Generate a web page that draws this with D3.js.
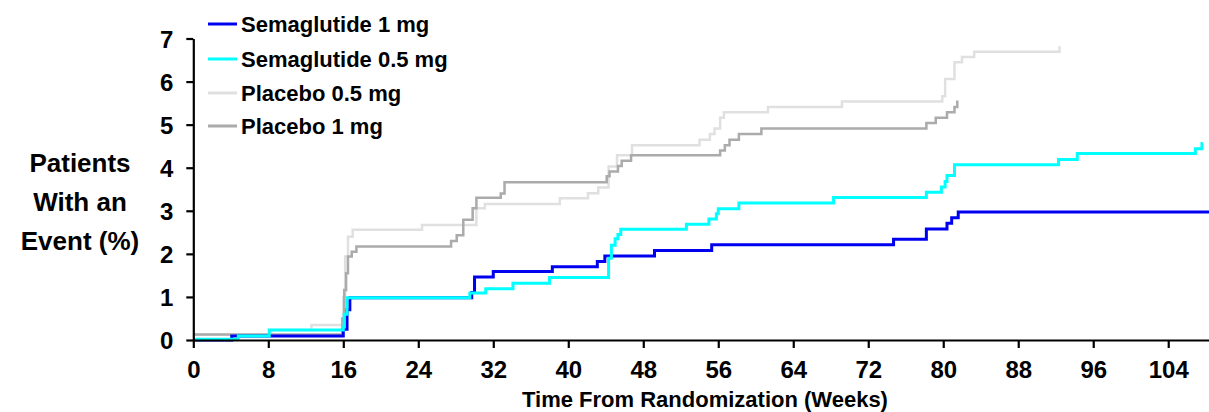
<!DOCTYPE html>
<html>
<head>
<meta charset="utf-8">
<script src="https://cdn.jsdelivr.net/npm/d3@7"></script>
<style>
  html, body { margin: 0; padding: 0; background: #ffffff; }
  svg { display: block; font-family: "Liberation Sans", Arial, Helvetica, sans-serif; }
</style>
</head>
<body>
<svg id="chart" width="1209" height="412"></svg>
<script>
// ---- data ----
const seriesNames = ["Semaglutide 1 mg", "Semaglutide 0.5 mg", "Placebo 0.5 mg", "Placebo 1 mg"];
const seriesColors = ["#0000f0", "#00ffff", "#e0e0e0", "#ababab"];

const sema1Weeks  = [0, 4.1, 16.0, 16.4, 16.7, 29.7, 30.0, 32.0, 38.3, 43.1, 43.9, 49.2, 55.3, 74.7, 78.2, 80.4, 80.9, 81.6, 108.4];
const sema1Values = [0, 0.09, 0.25, 0.7, 0.98, 1.1, 1.46, 1.59, 1.70, 1.82, 1.95, 2.08, 2.21, 2.34, 2.58, 2.71, 2.84, 2.97, 2.97];

const sema05Weeks  = [0, 4.8, 8.1, 16.0, 16.1, 16.4, 29.5, 31.2, 34.1, 38.0, 44.3, 44.6, 45.0, 45.3, 45.6, 52.6, 55.0, 55.8, 56.0, 58.2, 68.3, 78.2, 79.8, 80.2, 80.4, 81.2, 92.3, 94.3, 106.9, 107.6, 107.7];
const sema05Values = [0.02, 0.09, 0.23, 0.3, 0.6, 0.98, 1.09, 1.19, 1.32, 1.45, 1.9, 2.2, 2.35, 2.45, 2.57, 2.69, 2.81, 2.93, 3.05, 3.18, 3.31, 3.43, 3.55, 3.68, 3.82, 4.07, 4.19, 4.33, 4.44, 4.56, 4.56];

const plac05Weeks  = [0, 8.3, 12.6, 16.0, 16.2, 16.5, 17.0, 24.4, 30.2, 31.1, 39.1, 42.1, 43.2, 44.3, 45.2, 46.8, 54.0, 55.1, 55.6, 56.2, 56.6, 61.3, 69.2, 79.9, 80.2, 81.2, 82.0, 83.3, 92.4];
const plac05Values = [0.12, 0.23, 0.35, 1.0, 1.94, 2.4, 2.56, 2.67, 3.06, 3.16, 3.29, 3.41, 3.54, 4.03, 4.29, 4.52, 4.65, 4.78, 4.91, 5.16, 5.29, 5.41, 5.54, 5.66, 6.06, 6.45, 6.57, 6.69, 6.82];

const plac1Weeks  = [0, 15.9, 16.1, 16.3, 16.5, 16.9, 17.4, 27.5, 28.1, 28.8, 29.8, 30.2, 32.8, 33.2, 44.1, 44.4, 45.3, 45.7, 46.7, 56.2, 56.7, 57.2, 58.2, 60.6, 78.2, 79.2, 80.4, 81.2, 81.5];
const plac1Values = [0.13, 0.5, 1.16, 1.55, 1.94, 2.05, 2.17, 2.30, 2.43, 2.79, 3.06, 3.30, 3.40, 3.66, 3.80, 3.91, 4.04, 4.16, 4.29, 4.40, 4.52, 4.65, 4.78, 4.91, 5.04, 5.16, 5.29, 5.41, 5.56];

const xTicks = [0, 8, 16, 24, 32, 40, 48, 56, 64, 72, 80, 88, 96, 104];
const yTicks = [0, 1, 2, 3, 4, 5, 6, 7];
const xTitle = "Time From Randomization (Weeks)";
const yTitleLines = ["Patients", "With an", "Event (%)"];

// ---- build ----
const svg = d3.select("#chart");
const x = d3.scaleLinear().domain([0, 108.35]).range([193.3, 1209]);
const y = d3.scaleLinear().domain([0, 7]).range([340, 38.5]);

const seriesData = [
  { name: seriesNames[0], color: seriesColors[0], weeks: sema1Weeks, values: sema1Values, w: 3 },
  { name: seriesNames[1], color: seriesColors[1], weeks: sema05Weeks, values: sema05Values, w: 3 },
  { name: seriesNames[2], color: seriesColors[2], weeks: plac05Weeks, values: plac05Values, w: 2.5 },
  { name: seriesNames[3], color: seriesColors[3], weeks: plac1Weeks, values: plac1Values, w: 2.5 }
];

const line = d3.line().x(d => x(d[0])).y(d => y(d[1])).curve(d3.curveStepAfter);

// draw order: light grey, grey, blue, cyan
[2, 3, 0, 1].forEach(i => {
  const s = seriesData[i];
  const pts = s.weeks.map((wk, j) => [wk, s.values[j]]);
  svg.append("path")
    .attr("d", line(pts))
    .attr("fill", "none")
    .attr("stroke", s.color)
    .attr("stroke-width", s.w)
    .attr("stroke-linejoin", "miter");
});

// axes
const xAxis = svg.append("g")
  .attr("transform", `translate(0,${y(0)})`)
  .call(d3.axisBottom(x).tickValues(xTicks).tickFormat(d3.format("d")).tickSize(8).tickPadding(13).tickSizeOuter(0));
const yAxis = svg.append("g")
  .attr("transform", `translate(${x(0)},0)`)
  .call(d3.axisLeft(y).tickValues(yTicks).tickFormat(d3.format("d")).tickSize(7).tickPadding(13).tickSizeOuter(0));

[xAxis, yAxis].forEach(g => {
  g.select(".domain").attr("stroke", "#000").attr("stroke-width", 2.2);
  g.selectAll(".tick line").attr("stroke", "#000").attr("stroke-width", 2.2);
  g.selectAll(".tick text")
    .attr("fill", "#000")
    .style("font-size", "24px")
    .style("font-weight", "bold")
    .style("font-family", '"Liberation Sans", Arial, sans-serif');
});
yAxis.selectAll(".tick text").attr("dy", "0.36em");

// x title
svg.append("text")
  .attr("x", 705).attr("y", 407)
  .attr("text-anchor", "middle")
  .style("font-size", "22px").style("font-weight", "bold")
  .text(xTitle);

// y title
yTitleLines.forEach((t, i) => {
  svg.append("text")
    .attr("x", 80).attr("y", 172 + i * 39)
    .attr("text-anchor", "middle")
    .style("font-size", "26px").style("font-weight", "bold")
    .text(t);
});

// legend
const legendY = [24, 59, 93, 126];
seriesData.forEach((s, i) => {
  svg.append("line")
    .attr("x1", 208).attr("x2", 237)
    .attr("y1", legendY[i]).attr("y2", legendY[i])
    .attr("stroke", s.color).attr("stroke-width", 3);
  svg.append("text")
    .attr("x", 241).attr("y", legendY[i] + 8)
    .style("font-size", "22px").style("font-weight", "bold")
    .text(s.name);
});
</script>
</body>
</html>
